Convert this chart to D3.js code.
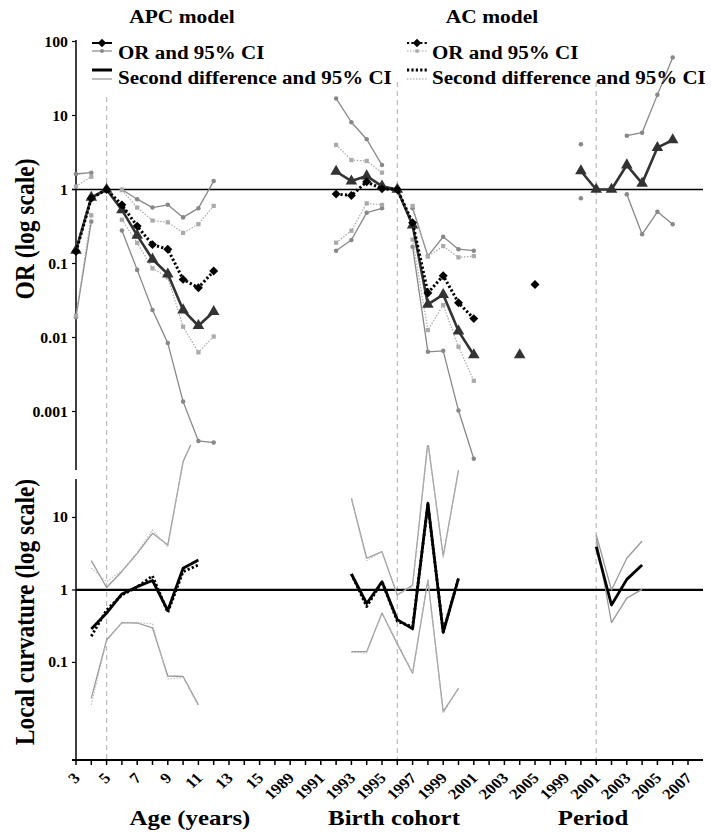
<!DOCTYPE html>
<html>
<head>
<meta charset="utf-8">
<title>APC and AC models</title>
<script src="https://d3js.org/d3.v7.min.js"></script>
<style>
	body { margin: 0; background: #fff; }
	text { font-family: "Liberation Serif", "Times New Roman", serif; font-weight: bold; fill: #000; }
</style>
</head>
<body>
<script>

// categories on the x axis (age, birth cohort, period)
var age_labels = ['3','4','5','6','7','8','9','10','11','12','13','14','15'];
var cohort_labels = ['1988','1989','1990','1991','1992','1993','1994','1995','1996','1997','1998','1999','2000','2001','2002','2003','2004','2005','2006'];
var period_labels = ['1999','2000','2001','2002','2003','2004','2005','2006','2007'];

// tick labels of the log axes
var or_ticks = [100, 10, 1, 0.1, 0.01, 0.001];
var or_tick_text = ['100', '10', '1', '0.1', '0.01', '0.001'];
var lc_ticks = [10, 1, 0.1];
var lc_tick_text = ['10', '1', '0.1'];

// reference categories (dashed lines)
var ref_keys = ['a5', 'c1996', 'p2001'];

// ---- odds ratios, age 3..12
var age_or_x = ['3','4','5','6','7','8','9','10','11','12'];
var age_apc_or = [0.15, 0.78, 1, 0.53, 0.24, 0.114, 0.072, 0.0235, 0.0144, 0.0223];
var age_apc_lo = [0.0188, 0.37, null, 0.28, 0.082, 0.0235, 0.0084, 0.00136, 0.0004, 0.00038];
var age_apc_hi = [1.62, 1.69, null, 1.0, 0.74, 0.57, 0.62, 0.42, 0.56, 1.3];
var age_ac_or = [0.145, 0.76, 1, 0.62, 0.32, 0.18, 0.156, 0.061, 0.047, 0.079];
var age_ac_lo = [0.0197, 0.45, null, 0.39, 0.19, 0.086, 0.065, 0.014, 0.0063, 0.0103];
var age_ac_hi = [1.1, 1.49, null, 0.98, 0.57, 0.38, 0.36, 0.26, 0.34, 0.6];

// ---- odds ratios, birth cohort 1992..2005
var coh_or_x = ['1992','1993','1994','1995','1996','1997','1998','1999','2000','2001','2002','2003','2004','2005'];
var coh_apc_or = [1.75, 1.3, 1.52, 1.11, 1, 0.33, 0.028, 0.038, 0.0122, 0.0058, null, null, 0.0058, null];
var coh_apc_lo = [0.149, 0.208, 0.486, 0.557, null, 0.169, 0.0064, 0.0066, 0.00103, 0.00023, null, null, null, null];
var coh_apc_hi = [17, 8.1, 4.77, 2.14, null, 0.56, 0.126, 0.23, 0.156, 0.149, null, null, null, null];
var coh_ac_or = [0.87, 0.83, 1.27, 1.02, 1, 0.356, 0.04, 0.0685, 0.0295, 0.018, null, null, null, 0.052];
var coh_ac_lo = [0.191, 0.277, 0.65, 0.62, null, 0.21, 0.0126, 0.0275, 0.0075, 0.0026, null, null, null, null];
var coh_ac_hi = [4.0, 2.5, 2.43, 1.69, null, 0.6, 0.124, 0.172, 0.121, 0.126, null, null, null, null];

// ---- odds ratios, period 2000..2006 (APC only)
var per_or_x = ['2000','2001','2002','2003','2004','2005','2006'];
var per_apc_or = [1.78, 1, 1, 2.14, 1.21, 3.67, 4.67];
var per_apc_lo = [0.76, null, null, 0.86, 0.248, 0.5, 0.34];
var per_apc_hi = [4.08, null, null, 5.33, 5.86, 19, 61];

// ---- local curvature (second differences), age 4..11
var age_sd_x = ['4','5','6','7','8','9','10','11'];
var age_apc_sd = [0.29, 0.48, 0.88, 1.11, 1.35, 0.52, 1.99, 2.59];
var age_apc_sd_lo = [0.032, 0.204, 0.354, 0.35, 0.30, 0.065, 0.064, 0.026];
var age_apc_sd_hi = [2.54, 1.08, 1.8, 3.2, 6.05, 4.18, 59, 170];
var age_ac_sd = [0.23, 0.53, 0.85, 1.1, 1.56, 0.49, 1.79, 2.21];
var age_ac_sd_lo = [0.026, 0.2, 0.35, 0.355, 0.34, 0.059, 0.062, 0.025];
var age_ac_sd_hi = [2.0, 1.3, 1.85, 3.3, 6.7, 3.9, 60, 170];

// ---- local curvature, birth cohort 1993..2000
var coh_sd_x = ['1993','1994','1995','1996','1997','1998','1999','2000'];
var coh_apc_sd = [1.66, 0.65, 1.3, 0.39, 0.29, 15.7, 0.26, 1.45];
var coh_apc_sd_lo = [0.141, 0.141, 0.48, 0.18, 0.071, 1.37, 0.021, 0.044];
var coh_apc_sd_hi = [18.4, 2.74, 3.38, 0.85, 1.17, 110, 2.94, 45];
var coh_ac_sd = [1.66, 0.59, 1.3, 0.37, 0.31, 15, 0.265, 1.45];
var coh_ac_sd_lo = [0.138, 0.135, 0.48, 0.19, 0.072, 1.37, 0.02, 0.044];
var coh_ac_sd_hi = [18, 2.54, 3.38, 0.87, 1.11, 110, 2.8, 44];

// ---- local curvature, period 2001..2004 (APC only)
var per_sd_x = ['2001','2002','2003','2004'];
var per_apc_sd = [3.96, 0.62, 1.4, 2.21];
var per_apc_sd_lo = [5.2, 0.354, 0.77, 1.02];
var per_apc_sd_hi = [5.8, 1.0, 2.74, 4.74];

// horizontal stretch of all lettering (the original figure was widened)
var sx = 1.13;

var width = 711;
var height = 836;

var svg = d3.select('body').append('svg')
	.attr('width', width)
	.attr('height', height);

// keys for every category
var cat_keys = [];
var cat_text = [];
age_labels.forEach(function (d) { cat_keys.push('a' + d); cat_text.push(d); });
cohort_labels.forEach(function (d) { cat_keys.push('c' + d); cat_text.push(d); });
period_labels.forEach(function (d) { cat_keys.push('p' + d); cat_text.push(d); });

var x = d3.scalePoint().domain(cat_keys).range([76, 688]);
var y_or = d3.scaleLog().domain([1e-4, 100]).range([485.5, 41.5]);
var y_lc = d3.scaleLog().domain([Math.pow(10, -2.36), 100]).range([761, 445]);

// function - text with horizontal stretch
function put_text(str, px, py, size, anchor, rot) {
	var t = 'translate(' + px + ',' + py + ') scale(' + sx + ',1)';
	if (rot) {
		t = t + ' rotate(' + rot + ')';
	}
	return svg.append('text')
		.attr('transform', t)
		.attr('text-anchor', anchor)
		.style('font-size', size + 'px')
		.text(str);
}

// function - build point list for a series
function make_points(prefix, xs, vals) {
	return xs.map(function (d, i) {
		return { k: prefix + d, v: vals[i] };
	});
}

// function - draw one line series with optional markers
function draw_series(g, pts, ys, style) {
	var line = d3.line()
		.defined(function (d) { return d.v != null; })
		.x(function (d) { return x(d.k); })
		.y(function (d) { return ys(d.v); });
	g.append('path')
		.attr('d', line(pts))
		.attr('fill', 'none')
		.attr('stroke', style.color)
		.attr('stroke-width', style.width)
		.attr('stroke-dasharray', style.dash || null)
		.attr('stroke-linejoin', 'round');
	if (style.marker) {
		var sym = d3.symbol().type(style.marker).size(style.msize);
		g.selectAll(null)
			.data(pts.filter(function (d) { return d.v != null; }))
			.enter()
			.append('path')
			.attr('d', sym)
			.attr('transform', function (d) {
				return 'translate(' + x(d.k) + ',' + ys(d.v) + ') rotate(' + (style.rot || 0) + ')';
			})
			.attr('fill', style.mcolor || style.color);
	}
}

// styles (diamonds are squares turned by 45 degrees)
var st_apc_or = { color: '#333', width: 2.6, marker: d3.symbolTriangle, msize: 58 };
var st_ac_or = { color: '#000', width: 3, dash: '2.2,2.2', marker: d3.symbolSquare, msize: 40, rot: 45 };
var st_apc_ci = { color: '#888', width: 1.3, marker: d3.symbolCircle, msize: 16 };
var st_ac_ci = { color: '#aaa', width: 1.2, dash: '1.5,1.5', marker: d3.symbolSquare, msize: 18 };
var st_apc_sd = { color: '#000', width: 2.8 };
var st_ac_sd = { color: '#000', width: 2.8, dash: '2.2,2.2' };
var st_apc_sd_ci = { color: '#999', width: 1.3 };
var st_ac_sd_ci = { color: '#bbb', width: 1.1, dash: '1.5,1.5' };

// dashed reference categories
var ref_top = [97, 82, 82];
ref_keys.forEach(function (k, i) {
	svg.append('line')
		.attr('x1', x(k)).attr('x2', x(k))
		.attr('y1', ref_top[i]).attr('y2', 760)
		.attr('stroke', '#bbb')
		.attr('stroke-width', 1.2)
		.attr('stroke-dasharray', '5,4');
});

// axes lines
svg.append('line').attr('x1', x('a3')).attr('x2', x('a3')).attr('y1', 40).attr('y2', 470)
	.attr('stroke', '#000').attr('stroke-width', 1.5);
svg.append('line').attr('x1', x('a3')).attr('x2', x('a3')).attr('y1', 479).attr('y2', 761)
	.attr('stroke', '#000').attr('stroke-width', 1.5);
svg.append('line').attr('x1', 72).attr('x2', 703).attr('y1', 760).attr('y2', 760)
	.attr('stroke', '#000').attr('stroke-width', 2);
svg.append('line').attr('x1', 72).attr('x2', 703).attr('y1', y_or(1)).attr('y2', y_or(1))
	.attr('stroke', '#000').attr('stroke-width', 1.6);
svg.append('line').attr('x1', x('a3')).attr('x2', 703).attr('y1', y_lc(1)).attr('y2', y_lc(1))
	.attr('stroke', '#000').attr('stroke-width', 2.2);

// y ticks and labels
or_ticks.forEach(function (v, i) {
	svg.append('line').attr('x1', x('a3') - 4).attr('x2', x('a3')).attr('y1', y_or(v)).attr('y2', y_or(v))
		.attr('stroke', '#000').attr('stroke-width', 1.2);
	put_text(or_tick_text[i], 68, y_or(v) + 5, 14, 'end');
});
lc_ticks.forEach(function (v, i) {
	svg.append('line').attr('x1', x('a3') - 4).attr('x2', x('a3')).attr('y1', y_lc(v)).attr('y2', y_lc(v))
		.attr('stroke', '#000').attr('stroke-width', 1.2);
	put_text(lc_tick_text[i], 68, y_lc(v) + 5, 14, 'end');
});

// x ticks and labels (every second category labelled)
cat_keys.forEach(function (k, i) {
	svg.append('line').attr('x1', x(k)).attr('x2', x(k)).attr('y1', 760).attr('y2', 765)
		.attr('stroke', '#000').attr('stroke-width', 1.5);
	if (i % 2 == 0) {
		put_text(cat_text[i], x(k) + 5, 779, 15, 'end', -45);
	}
});

// top panel: odds ratios
var g_top = svg.append('g');
draw_series(g_top, make_points('a', age_or_x, age_apc_hi), y_or, st_apc_ci);
draw_series(g_top, make_points('a', age_or_x, age_apc_lo), y_or, st_apc_ci);
draw_series(g_top, make_points('a', age_or_x, age_ac_hi), y_or, st_ac_ci);
draw_series(g_top, make_points('a', age_or_x, age_ac_lo), y_or, st_ac_ci);
draw_series(g_top, make_points('c', coh_or_x, coh_apc_hi), y_or, st_apc_ci);
draw_series(g_top, make_points('c', coh_or_x, coh_apc_lo), y_or, st_apc_ci);
draw_series(g_top, make_points('c', coh_or_x, coh_ac_hi), y_or, st_ac_ci);
draw_series(g_top, make_points('c', coh_or_x, coh_ac_lo), y_or, st_ac_ci);
draw_series(g_top, make_points('p', per_or_x, per_apc_hi), y_or, st_apc_ci);
draw_series(g_top, make_points('p', per_or_x, per_apc_lo), y_or, st_apc_ci);
draw_series(g_top, make_points('a', age_or_x, age_apc_or), y_or, st_apc_or);
draw_series(g_top, make_points('c', coh_or_x, coh_apc_or), y_or, st_apc_or);
draw_series(g_top, make_points('p', per_or_x, per_apc_or), y_or, st_apc_or);
draw_series(g_top, make_points('a', age_or_x, age_ac_or), y_or, st_ac_or);
draw_series(g_top, make_points('c', coh_or_x, coh_ac_or), y_or, st_ac_or);

// bottom panel: local curvature, clipped at its top
svg.append('clipPath').attr('id', 'clip_lc')
	.append('rect').attr('x', 0).attr('y', 445).attr('width', width).attr('height', 320);
var g_bot = svg.append('g').attr('clip-path', 'url(#clip_lc)');
draw_series(g_bot, make_points('a', age_sd_x, age_apc_sd_hi), y_lc, st_apc_sd_ci);
draw_series(g_bot, make_points('a', age_sd_x, age_apc_sd_lo), y_lc, st_apc_sd_ci);
draw_series(g_bot, make_points('a', age_sd_x, age_ac_sd_hi), y_lc, st_ac_sd_ci);
draw_series(g_bot, make_points('a', age_sd_x, age_ac_sd_lo), y_lc, st_ac_sd_ci);
draw_series(g_bot, make_points('c', coh_sd_x, coh_apc_sd_hi), y_lc, st_apc_sd_ci);
draw_series(g_bot, make_points('c', coh_sd_x, coh_apc_sd_lo), y_lc, st_apc_sd_ci);
draw_series(g_bot, make_points('c', coh_sd_x, coh_ac_sd_hi), y_lc, st_ac_sd_ci);
draw_series(g_bot, make_points('c', coh_sd_x, coh_ac_sd_lo), y_lc, st_ac_sd_ci);
draw_series(g_bot, make_points('p', per_sd_x, per_apc_sd_hi), y_lc, st_apc_sd_ci);
draw_series(g_bot, make_points('p', per_sd_x, per_apc_sd_lo), y_lc, st_apc_sd_ci);
draw_series(g_bot, make_points('a', age_sd_x, age_apc_sd), y_lc, st_apc_sd);
draw_series(g_bot, make_points('c', coh_sd_x, coh_apc_sd), y_lc, st_apc_sd);
draw_series(g_bot, make_points('p', per_sd_x, per_apc_sd), y_lc, st_apc_sd);
draw_series(g_bot, make_points('a', age_sd_x, age_ac_sd), y_lc, st_ac_sd);
draw_series(g_bot, make_points('c', coh_sd_x, coh_ac_sd), y_lc, st_ac_sd);

// titles
put_text('APC model', 182, 23, 19, 'middle');
put_text('AC model', 492, 23, 19, 'middle');
put_text('OR (log scale)', 34, 229, 23.5, 'middle', -90);
put_text('Local curvature (log scale)', 34, 612, 23.5, 'middle', -90);
put_text('Age (years)', 190, 825, 22, 'middle');
put_text('Birth cohort', 394, 825, 22, 'middle');
put_text('Period', 593, 825, 22, 'middle');

// legends (OR icon uses a black diamond in both)
function draw_legend(lx, or_style, ci_style, sd_style, sdci_style) {
	var lg = svg.append('g');
	lg.append('line').attr('x1', lx).attr('x2', lx + 20).attr('y1', 43).attr('y2', 43)
		.attr('stroke', '#000').attr('stroke-width', 2).attr('stroke-dasharray', or_style.dash || null);
	lg.append('path').attr('d', d3.symbol().type(d3.symbolSquare).size(36)())
		.attr('transform', 'translate(' + (lx + 10) + ',43) rotate(45)').attr('fill', '#000');
	lg.append('line').attr('x1', lx).attr('x2', lx + 20).attr('y1', 51).attr('y2', 51)
		.attr('stroke', ci_style.color).attr('stroke-width', 1.2).attr('stroke-dasharray', ci_style.dash || null);
	lg.append('path').attr('d', d3.symbol().type(ci_style.marker).size(12)())
		.attr('transform', 'translate(' + (lx + 10) + ',51)').attr('fill', ci_style.color);
	lg.append('line').attr('x1', lx).attr('x2', lx + 20).attr('y1', 70).attr('y2', 70)
		.attr('stroke', sd_style.color).attr('stroke-width', 3).attr('stroke-dasharray', sd_style.dash || null);
	lg.append('line').attr('x1', lx).attr('x2', lx + 20).attr('y1', 79).attr('y2', 79)
		.attr('stroke', sdci_style.color).attr('stroke-width', 1.3).attr('stroke-dasharray', sdci_style.dash || null);
}
draw_legend(92, st_apc_or, st_apc_ci, st_apc_sd, st_apc_sd_ci);
draw_legend(407, st_ac_or, st_ac_ci, st_ac_sd, st_ac_sd_ci);
put_text('OR and 95% CI', 118, 59, 18.6, 'start');
put_text('Second difference and 95% CI', 118, 84, 18.6, 'start');
put_text('OR and 95% CI', 432, 59, 18.6, 'start');
put_text('Second difference and 95% CI', 432, 84, 18.6, 'start');

</script>
</body>
</html>
